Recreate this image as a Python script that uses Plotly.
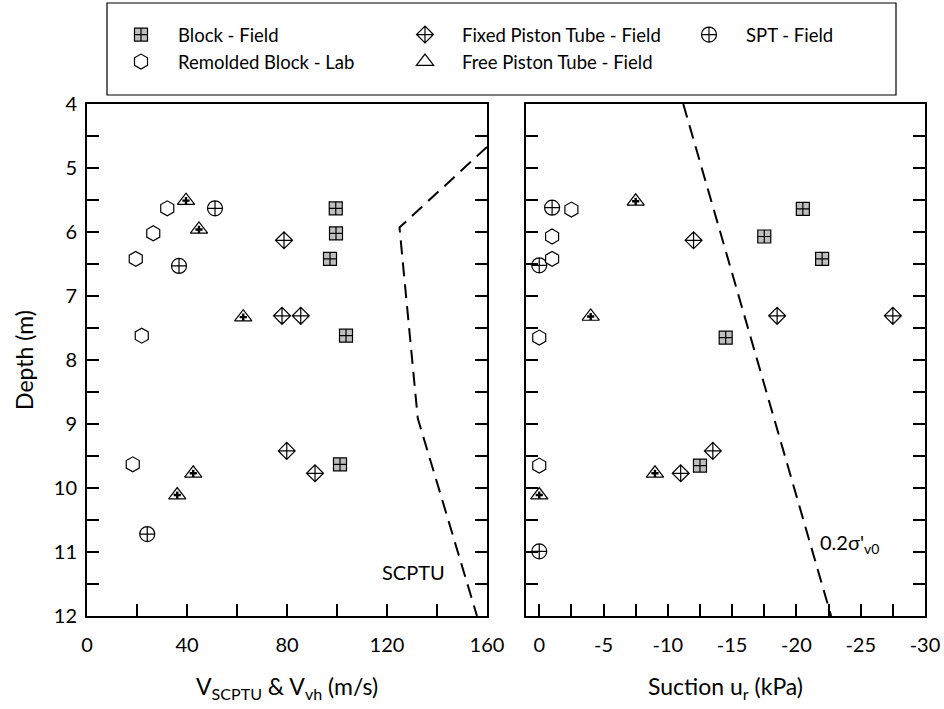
import plotly.graph_objects as go

# ---------------- data ----------------
# Left panel: shear wave velocity (m/s) vs depth (m)
blk_v = [99.5, 99.6, 97.2, 103.6, 101.2]
blk_v_d = [5.63, 6.02, 6.42, 7.62, 9.63]
rem_v = [32.1, 26.5, 19.5, 21.9, 18.3]
rem_v_d = [5.63, 6.02, 6.42, 7.62, 9.63]
fix_v = [78.8, 78.0, 85.5, 79.9, 91.2]
fix_v_d = [6.13, 7.31, 7.31, 9.42, 9.77]
free_v = [39.6, 44.8, 62.5, 42.5, 36.1]
free_v_d = [5.51, 5.96, 7.33, 9.77, 10.11]
spt_v = [51.2, 36.8, 24.1]
spt_v_d = [5.63, 6.53, 10.72]
scptu_v = [160, 125, 132.3, 156]
scptu_d = [4.67, 5.93, 8.91, 12.0]

# Right panel: suction u_r (kPa) vs depth (m)
blk_u = [-20.5, -17.5, -22.0, -14.5, -12.5]
blk_u_d = [5.64, 6.07, 6.42, 7.65, 9.65]
rem_u = [-2.5, -1.0, -1.0, 0.0, 0.0]
rem_u_d = [5.65, 6.07, 6.42, 7.65, 9.65]
fix_u = [-12.0, -18.5, -27.5, -13.5, -11.0]
fix_u_d = [6.13, 7.31, 7.31, 9.42, 9.77]
free_u = [-7.5, -4.0, -9.0, 0.0]
free_u_d = [5.52, 7.32, 9.77, 10.11]
spt_u = [-1.0, 0.0, 0.0]
spt_u_d = [5.62, 6.52, 10.99]
sig_u = [-11.2, -22.7]
sig_d = [4.0, 12.0]

# tick labels
v_ticks = [0, 40, 80, 120, 160]
u_ticks = [0, -5, -10, -15, -20, -25, -30]
u_ticktext = ["0", "-5", "-10", "-15", "-20", "-25", "-30"]

names = ["Block - Field", "Fixed Piston Tube - Field", "SPT - Field",
         "Remolded Block - Lab", "Free Piston Tube - Field"]

FONT = "Lato, Calibri, Carlito, sans-serif"
BLK = "black"

sty = {
    "Block - Field": dict(symbol="square-cross", size=13, color="#bfbfbf",
                          line=dict(color=BLK, width=1.2)),
    "Fixed Piston Tube - Field": dict(symbol="diamond-cross", size=13, color="white",
                                      line=dict(color=BLK, width=1.2)),
    "SPT - Field": dict(symbol="circle-cross", size=15, color="white",
                        line=dict(color=BLK, width=1.2)),
    "Remolded Block - Lab": dict(symbol="hexagon", size=15, color="white",
                                 line=dict(color=BLK, width=1.2)),
    "Free Piston Tube - Field": dict(symbol="triangle-up", size=15, color="white",
                                     line=dict(color=BLK, width=1.2)),
}

left = {
    "Block - Field": (blk_v, blk_v_d),
    "Fixed Piston Tube - Field": (fix_v, fix_v_d),
    "SPT - Field": (spt_v, spt_v_d),
    "Remolded Block - Lab": (rem_v, rem_v_d),
    "Free Piston Tube - Field": (free_v, free_v_d),
}
right = {
    "Block - Field": (blk_u, blk_u_d),
    "Fixed Piston Tube - Field": (fix_u, fix_u_d),
    "SPT - Field": (spt_u, spt_u_d),
    "Remolded Block - Lab": (rem_u, rem_u_d),
    "Free Piston Tube - Field": (free_u, free_u_d),
}

fig = go.Figure()

# dashed reference lines
fig.add_trace(go.Scatter(x=scptu_v, y=scptu_d, mode="lines", xaxis="x", yaxis="y",
                         line=dict(color=BLK, width=2, dash="14px,8px"),
                         showlegend=False, hoverinfo="skip"))
fig.add_trace(go.Scatter(x=sig_u, y=sig_d, mode="lines", xaxis="x2", yaxis="y2",
                         line=dict(color=BLK, width=2, dash="14px,8px"),
                         showlegend=False, hoverinfo="skip"))

for n in names:
    x, y = left[n]
    fig.add_trace(go.Scatter(x=x, y=y, mode="markers", name=n, marker=sty[n],
                             xaxis="x", yaxis="y", legendgroup=n, showlegend=True))
for n in names:
    x, y = right[n]
    fig.add_trace(go.Scatter(x=x, y=y, mode="markers", name=n, marker=sty[n],
                             xaxis="x2", yaxis="y2", legendgroup=n, showlegend=False))

# small plus inside the free-piston triangles
plus = dict(symbol="cross", size=6, color=BLK, line=dict(width=0))
fig.add_trace(go.Scatter(x=free_v, y=free_v_d, mode="markers", marker=plus,
                         xaxis="x", yaxis="y", showlegend=False, hoverinfo="skip"))
fig.add_trace(go.Scatter(x=free_u, y=free_u_d, mode="markers", marker=plus,
                         xaxis="x2", yaxis="y2", showlegend=False, hoverinfo="skip"))

W, H = 944, 709
ML, MR, MT, MB = 0, 19, 104, 93
pw = W - ML - MR
ph = H - MT - MB
d1 = [87 / pw, 487 / pw]
d2 = [526 / pw, 1]

tick = dict(ticks="inside", ticklen=12, tickwidth=1.5, tickcolor=BLK)
axfont = dict(family=FONT, size=20, color=BLK)
titfont = dict(family=FONT, size=23, color=BLK)

fig.update_layout(
    width=W, height=H,
    margin=dict(l=ML, r=MR, t=MT, b=MB, autoexpand=False),
    paper_bgcolor="white", plot_bgcolor="white",
    font=dict(family=FONT, size=20, color=BLK),
    xaxis=dict(domain=d1, anchor="y", range=[0, 160], tickvals=v_ticks,
               showline=True, linecolor=BLK, linewidth=2, mirror=True,
               showgrid=False, zeroline=False, tickfont=axfont,
               ticklabelstandoff=10,
               minor=dict(dtick=20, tick0=0, ticks="inside", ticklen=12,
                          tickwidth=1.5, tickcolor=BLK),
               title=dict(text="V<sub>SCPTU</sub> & V<sub>vh</sub> (m/s)",
                          font=titfont, standoff=24),
               **tick),
    xaxis3=dict(overlaying="x", anchor="y", side="top", range=[0, 160],
                tickvals=[40, 80, 120], showticklabels=False, showline=False,
                showgrid=False, zeroline=False, **tick),
    yaxis=dict(domain=[0, 1], anchor="x", range=[12, 4], dtick=1, tick0=4,
               showline=True, linecolor=BLK, linewidth=2, mirror="ticks",
               showgrid=False, zeroline=False, tickfont=axfont,
               ticklabelstandoff=4,
               minor=dict(dtick=0.5, tick0=4, ticks="inside", ticklen=12,
                          tickwidth=1.5, tickcolor=BLK),
               title=dict(text="Depth (m)", font=titfont, standoff=14),
               **tick),
    xaxis2=dict(domain=d2, anchor="y2", range=[1.03, -30], tickvals=u_ticks,
                ticktext=u_ticktext,
                showline=True, linecolor=BLK, linewidth=2, mirror=True,
                showgrid=False, zeroline=False, tickfont=axfont,
                ticklabelstandoff=10,
                minor=dict(dtick=2.5, tick0=0, ticks="inside", ticklen=12,
                           tickwidth=1.5, tickcolor=BLK),
                title=dict(text="Suction u<sub>r</sub> (kPa)", font=titfont,
                           standoff=24),
                **tick),
    xaxis4=dict(overlaying="x2", anchor="y2", side="top", range=[1.03, -30],
                tickvals=u_ticks, showticklabels=False,
                showline=False, showgrid=False, zeroline=False, **tick),
    yaxis2=dict(domain=[0, 1], anchor="x2", range=[12, 4], dtick=1, tick0=4,
                showline=True, linecolor=BLK, linewidth=2, mirror="ticks",
                showgrid=False, zeroline=False, showticklabels=False,
                minor=dict(dtick=0.5, tick0=4, ticks="inside", ticklen=12,
                           tickwidth=1.5, tickcolor=BLK),
                **tick),
    legend=dict(orientation="h", x=104 / pw, xanchor="left",
                y=1 + (104 - 16) / ph, yanchor="top",
                font=dict(family=FONT, size=18.5, color=BLK),
                bgcolor="rgba(0,0,0,0)", borderwidth=0,
                entrywidth=205, itemwidth=64, tracegroupgap=0),
    shapes=[dict(type="rect", xref="paper", yref="paper",
                 x0=107 / pw, x1=896 / pw,
                 y0=1 + (104 - 95) / ph, y1=1 + (104 - 3) / ph,
                 line=dict(color=BLK, width=1.2), fillcolor="rgba(0,0,0,0)",
                 layer="below")],
    annotations=[
        dict(text="SCPTU", x=130.4, y=11.31, xref="x", yref="y", showarrow=False,
             font=dict(family=FONT, size=20, color=BLK)),
        dict(text="0.2σ'<sub>v0</sub>", x=-21.7, y=10.86, xref="x2", yref="y2",
             xanchor="left", showarrow=False,
             font=dict(family=FONT, size=20, color=BLK)),
    ],
)

fig.write_html("out.html")
